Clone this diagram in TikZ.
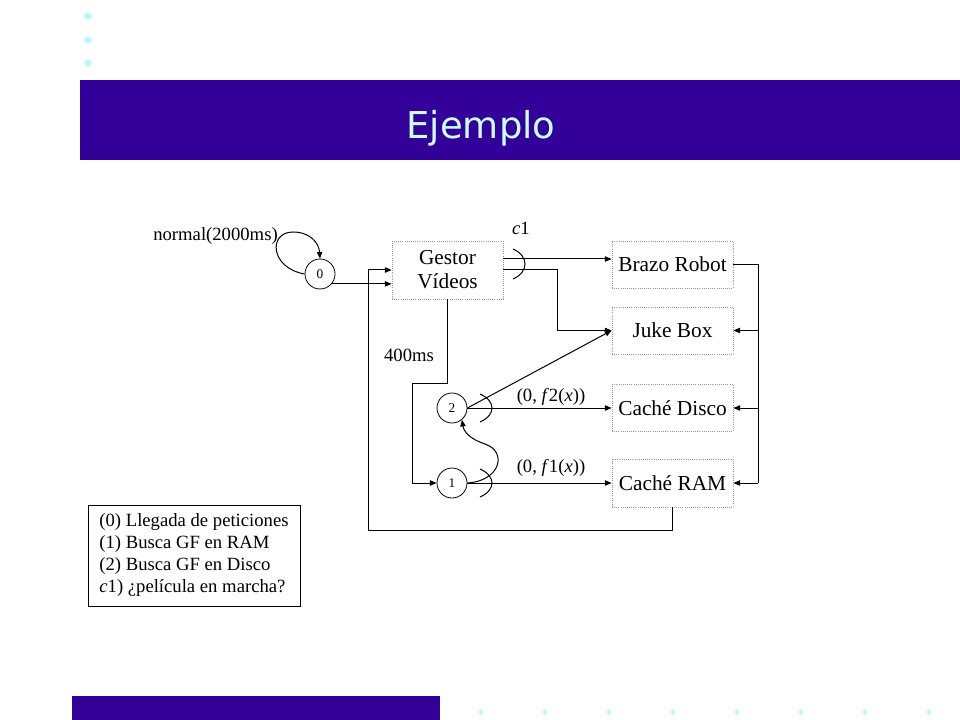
\documentclass[tikz,border=0pt]{standalone}
\usepackage{fontspec}
\setmainfont{Liberation Serif}
\newfontfamily\titlefont{DejaVu Sans}
\usetikzlibrary{arrows.meta}
\definecolor{barblue}{HTML}{330099}
\definecolor{titlecyan}{HTML}{CCFFFF}
\definecolor{dotcyan}{HTML}{C4F6FF}
\begin{document}
\begin{tikzpicture}[x=0.75pt,y=-0.75pt,
  box/.style={draw=gray!80, densely dotted, line width=0.6pt, minimum width=90.75pt, minimum height=35.25pt, inner sep=0pt, font=\fontsize{16}{18}\selectfont},
  st/.style={circle, draw, line width=0.6pt, minimum size=22.5pt, inner sep=0pt, font=\fontsize{10}{12}\selectfont},
  lab/.style={font=\fontsize{14}{16.5}\selectfont, inner sep=0pt},
  wire/.style={line width=0.75pt},
  arr/.style={wire, -{Triangle[length=5pt,width=4pt]}},
]
\useasboundingbox (0,0) rectangle (960,720);
\fill[white] (0,0) rectangle (960,720);
% bars and dots
\fill[barblue] (80,80) rectangle (960,160);
\fill[barblue] (72,696) rectangle (440,720);
\foreach \yy in {16,40,63} \fill[dotcyan] (88,\yy) circle[radius=3pt];
\foreach \k in {0,...,7} \fill[dotcyan] (481+64*\k,712) ellipse[x radius=1.5pt, y radius=2.5pt];
\node[font=\titlefont\fontsize{27.75}{30}\selectfont, text=titlecyan, anchor=base, inner sep=0pt] (title) at (481,139) {Ejemplo};
% nodes
\node[st] (n0) at (320,274) {0};
\node[box, minimum width=83.25pt, minimum height=43.5pt, align=center] (gestor) at (447.5,270) {Gestor\\Vídeos};
\node[box] (brazo) at (672.5,264.5) {Brazo Robot};
\node[box] (juke) at (672.5,330.5) {Juke Box};
\node[box] (disco) at (672.5,408) {Caché Disco};
\node[box, minimum height=36pt] (ram) at (672.5,483) {Caché RAM};
\node[st] (n2) at (452,408) {2};
\node[st] (n1) at (452,483) {1};
% connectors
\draw[arr] (n0.-40) -- (n0.-40 -| gestor.west);
\coordinate (loopL) at (368,530);
\draw[arr] (ram.south) |- (loopL) |- (gestor.west);
\draw[arr] (gestor.east |- 0,259) -- (brazo.west |- 0,259);
\draw[arr] (gestor.east) -- (557,270) |- (juke.west);
\coordinate (bus) at (758,483);
\draw[wire] (brazo.east) -| (bus);
\draw[arr] (juke.east -| bus) -- (juke.east);
\draw[arr] (disco.east -| bus) -- (disco.east);
\draw[arr] (ram.east -| bus) -- (ram.east);
\draw[arr] (gestor.south) |- (412,383) |- (n1.west);
\draw[arr] (n2.east) -- (juke.west);
\draw[arr] (n2.east) -- (disco.west);
\draw[arr] (n1.east) -- (ram.west);
\draw[arr] (n1.east) .. controls (500,481) and (508,452) .. (485,444) .. controls (470,439) and (464,432) .. (n2.-50);
\draw[arr] (n0.west) .. controls (270,268) and (268,232) .. (293,232) .. controls (310,232) and (319,243) .. (n0.north);
% arcs
\draw[wire] (513,249) .. controls (529,256) and (529,272) .. (513,279);
\draw[wire] (480,394) .. controls (496,401) and (496,415) .. (480,422);
\draw[wire] (480,469) .. controls (496,476) and (496,490) .. (480,497);
% labels
\node[lab, anchor=east] (normlab) at (278,236) {normal(2000ms)};
\node[lab] (c1lab) at (521,228) {\textit{c}1};
\node[lab] (t400) at (409,355) {400ms};
\node[lab] (f2lab) at (551,397) {(0, \textit{f}2(\textit{x}))};
\node[lab] (f1lab) at (551,468) {(0, \textit{f}1(\textit{x}))};
\node[draw, line width=0.75pt, align=left, minimum width=159pt, minimum height=75.75pt, font=\fontsize{14}{16.5}\selectfont] (legend) at (194,555.5) {(0) Llegada de peticiones\\(1) Busca GF en RAM\\(2) Busca GF en Disco\\\textit{c}1) ¿película en marcha?};
\end{tikzpicture}
\end{document}
